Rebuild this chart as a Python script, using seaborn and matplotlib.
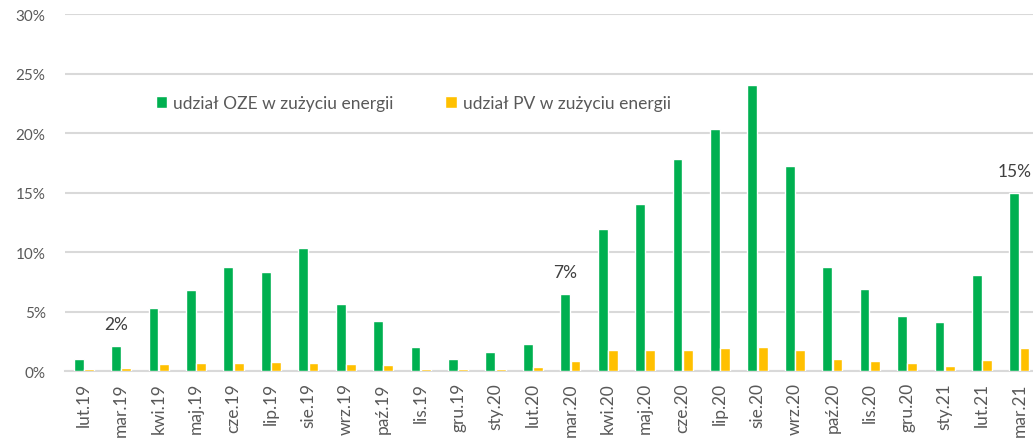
import pandas as pd
import seaborn as sns
import matplotlib.pyplot as plt
from matplotlib.ticker import FuncFormatter, FixedLocator

# miesiace
miesiace = ["lut.19", "mar.19", "kwi.19", "maj.19", "cze.19", "lip.19", "sie.19",
            "wrz.19", "paź.19", "lis.19", "gru.19", "sty.20", "lut.20", "mar.20",
            "kwi.20", "maj.20", "cze.20", "lip.20", "sie.20", "wrz.20", "paź.20",
            "lis.20", "gru.20", "sty.21", "lut.21", "mar.21"]

# udzial OZE w zuzyciu energii [%]
oze = [1.0, 2.1, 5.3, 6.8, 8.7, 8.3, 10.3, 5.6, 4.2, 2.0, 1.0, 1.6, 2.3, 6.5,
       11.9, 14.0, 17.8, 20.3, 24.0, 17.2, 8.7, 6.9, 4.6, 4.1, 8.1, 15.0]

# udzial PV w zuzyciu energii [%]
pv = [0.18, 0.25, 0.56, 0.65, 0.65, 0.73, 0.65, 0.56, 0.48, 0.18, 0.18, 0.18, 0.37, 0.85,
      1.75, 1.75, 1.75, 1.92, 2.03, 1.75, 1.05, 0.85, 0.65, 0.45, 0.96, 1.92]

serie = ["udział OZE w zużyciu energii", "udział PV w zużyciu energii"]
kolory = ["#00B050", "#FFC000"]

# etykiety nad wybranymi slupkami
etykiety = {"mar.19": "2%", "mar.20": "7%", "mar.21": "15%"}

df = pd.DataFrame({
    "miesiac": miesiace * 2,
    "udzial": oze + pv,
    "seria": [serie[0]] * len(miesiace) + [serie[1]] * len(miesiace),
})

sns.set_style("white")
plt.rcParams["font.family"] = ["Lato", "DejaVu Sans"]

fig = plt.figure(figsize=(10.33, 4.39), dpi=100)
ax = fig.add_axes([0.063, 0.1526, 0.942, 0.8132])

sns.barplot(df, x="miesiac", y="udzial", hue="seria", palette=kolory,
            width=0.55, gap=0.05, saturation=1, ax=ax, zorder=3)

ax.set_ylim(0, 30)
ax.set_xlim(-0.5, len(miesiace) - 0.5)
ax.set_yticks(range(0, 31, 5))
ax.yaxis.set_major_formatter(FuncFormatter(lambda v, p: f"{v:.0f}%"))
ax.grid(axis="y", color="#d9d9d9", linewidth=1.5)
ax.set_axisbelow(True)
ax.set_xlabel("")
ax.set_ylabel("")

for s in ["left", "right", "top"]:
    ax.spines[s].set_visible(False)
ax.spines["bottom"].set_color("#d9d9d9")
ax.spines["bottom"].set_linewidth(1.5)
ax.spines["bottom"].set_zorder(2)

ax.tick_params(axis="y", length=0, pad=14, labelsize=11, labelcolor="#595959")
ax.tick_params(axis="x", which="major", length=0, pad=8, labelsize=12.5,
               labelcolor="#595959", labelrotation=90)
ax.xaxis.set_minor_locator(FixedLocator([i - 0.5 for i in range(len(miesiace) + 1)]))
ax.tick_params(axis="x", which="minor", length=5, width=1.2, color="#d9d9d9")

# etykiety wartosci nad slupkami OZE
oze_bars = ax.containers[0]
for bar, m in zip(oze_bars, miesiace):
    if m in etykiety:
        ax.annotate(etykiety[m], (bar.get_x() + bar.get_width() / 2, bar.get_height()),
                    xytext=(0, 10), textcoords="offset points", ha="center", va="bottom",
                    fontsize=12.5, color="#404040")

handles, labels = ax.get_legend_handles_labels()
ax.legend(handles, labels, loc="center left", bbox_to_anchor=(0.077, 0.75), ncol=2,
          frameon=False, fontsize=12.5, handlelength=0.65, handleheight=0.65,
          handletextpad=0.35, columnspacing=3.0, labelcolor="#595959")

fig.savefig("out.png", dpi=100)
